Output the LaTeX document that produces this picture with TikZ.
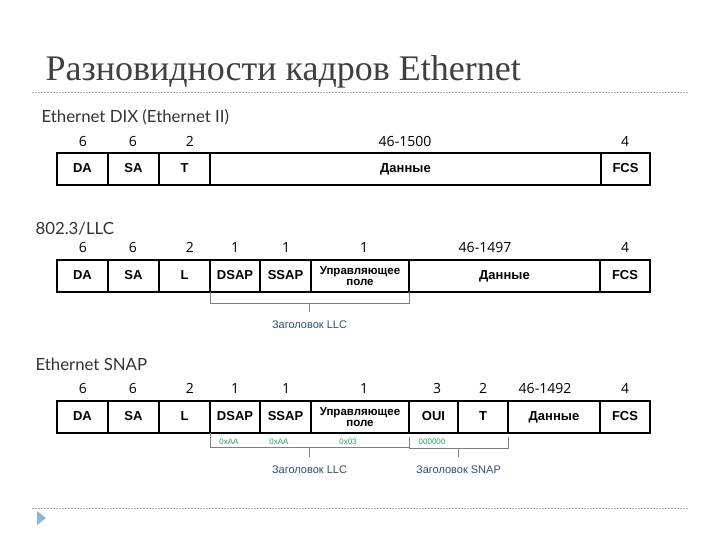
\documentclass[tikz,border=0pt]{standalone}
\usepackage{fontspec}
\setmainfont{Liberation Sans}
\newfontfamily\titlefont{Liberation Serif}
\newfontfamily\secfont{Lato}
\newfontfamily\numfont{Open Sans}
\usetikzlibrary{positioning,calc}
\definecolor{hdrblue}{HTML}{2F4F6F}
\definecolor{hexgreen}{HTML}{2E9E5B}
\definecolor{rulegray}{HTML}{A8A8A8}
\definecolor{bulletblue}{HTML}{8DB3DA}

\tikzset{
  box/.style={draw, line width=1.2pt, minimum height=32, inner sep=0pt, outer sep=0pt},
  field/.style={box, text height=9.5pt, text depth=2.5pt,
    font=\bfseries\fontsize{13}{14}\selectfont},
  ctlfield/.style={box, align=center, font=\bfseries\fontsize{11.5}{11.5}\selectfont},
  num/.style={font=\numfont\fontsize{14}{15}\selectfont, text height=10pt, text depth=0pt},
  sect/.style={anchor=west, font=\secfont\fontsize{16.8}{18}\selectfont, text=black!80},
  hex/.style={font=\fontsize{8}{9}\selectfont, text=hexgreen, inner sep=1pt},
  hdr/.style={font=\fontsize{11}{12}\selectfont, text=hdrblue, inner sep=1pt, outer sep=8pt},
  brk/.style={draw=gray, line width=0.5pt},
  rule/.style={draw=rulegray, line width=0.8pt, dash pattern=on 2pt off 1pt},
}

\begin{document}
\begin{tikzpicture}[x=1pt,y=-1pt]
  \useasboundingbox (0,0) rectangle (720,540);

  \node[anchor=base west, font=\titlefont\fontsize{36}{38}\selectfont, text=black!75] (title)
    at (42,81) {Разновидности кадров Ethernet};
  \draw[rule] (32,92) -- (688,92);
  \draw[rule] (32,508) -- (688,508);
  \fill[bulletblue] (37,511) -- (46,518) -- (37,525) -- cycle;

  % Ethernet DIX
  \node[sect] (dix) at (38,117) {Ethernet DIX (Ethernet II)};
  \node[field, minimum width=51] (da1) at (82.5,169) {DA};
  \node[field, minimum width=51, right=0pt of da1] (sa1) {SA};
  \node[field, minimum width=51, right=0pt of sa1] (t1) {T};
  \node[field, minimum width=391, right=0pt of t1] (data1) {Данные};
  \node[field, minimum width=49, right=0pt of data1] (fcs1) {FCS};
  \node[num] (n1da) at (83,142) {6};
  \node[num] (n1sa) at (133,142) {6};
  \node[num] (n1t) at (190,142) {2};
  \node[num] (n1data) at (405,142) {46-1500};
  \node[num] (n1fcs) at (625,142) {4};

  % 802.3/LLC
  \node[sect] (llc) at (32,229) {802.3/LLC};
  \node[field, minimum width=51] (da2) at (82.5,276) {DA};
  \node[field, minimum width=51, right=0pt of da2] (sa2) {SA};
  \node[field, minimum width=51, right=0pt of sa2] (l2) {L};
  \node[field, minimum width=50, right=0pt of l2] (dsap2) {DSAP};
  \node[field, minimum width=51, right=0pt of dsap2] (ssap2) {SSAP};
  \node[ctlfield, minimum width=98, right=0pt of ssap2] (ctl2) {Управляющее\\поле};
  \node[field, minimum width=191, right=0pt of ctl2] (data2) {Данные};
  \node[field, minimum width=50, right=0pt of data2] (fcs2) {FCS};
  \node[num] (n2da) at (83,247) {6};
  \node[num] (n2sa) at (133,247) {6};
  \node[num] (n2l) at (190,247) {2};
  \node[num] (n2dsap) at (235,247) {1};
  \node[num] (n2ssap) at (286,247) {1};
  \node[num] (n2ctl) at (364,247) {1};
  \node[num] (n2data) at (485,247) {46-1497};
  \node[num] (n2fcs) at (625,247) {4};
  \coordinate (llcL2) at ([yshift=-11pt]dsap2.south west);
  \coordinate (llcR2) at ([yshift=-11pt]ctl2.south east);
  \coordinate (llcM2) at ($(llcL2)!0.5!(llcR2)$);
  \draw[brk] (dsap2.south west) -- (llcL2) -- (llcR2) -- (ctl2.south east);
  \node[hdr, below=9pt of llcM2] (hllc2) {Заголовок LLC};
  \draw[brk] (llcM2) -- (hllc2);

  % Ethernet SNAP
  \node[sect] (snap) at (32,364) {Ethernet SNAP};
  \node[field, minimum width=51] (da3) at (82.5,417) {DA};
  \node[field, minimum width=51, right=0pt of da3] (sa3) {SA};
  \node[field, minimum width=51, right=0pt of sa3] (l3) {L};
  \node[field, minimum width=50, right=0pt of l3] (dsap3) {DSAP};
  \node[field, minimum width=51, right=0pt of dsap3] (ssap3) {SSAP};
  \node[ctlfield, minimum width=98, right=0pt of ssap3] (ctl3) {Управляющее\\поле};
  \node[field, minimum width=49, right=0pt of ctl3] (oui3) {OUI};
  \node[field, minimum width=50, right=0pt of oui3] (t3) {T};
  \node[field, minimum width=92, right=0pt of t3] (data3) {Данные};
  \node[field, minimum width=50, right=0pt of data3] (fcs3) {FCS};
  \node[num] (n3da) at (83,388) {6};
  \node[num] (n3sa) at (133,388) {6};
  \node[num] (n3l) at (190,388) {2};
  \node[num] (n3dsap) at (235,388) {1};
  \node[num] (n3ssap) at (286,388) {1};
  \node[num] (n3ctl) at (364,388) {1};
  \node[num] (n3oui) at (437,388) {3};
  \node[num] (n3t) at (483,388) {2};
  \node[num] (n3data) at (545,388) {46-1492};
  \node[num] (n3fcs) at (625,388) {4};
  \node[hex] (x3dsap) at (229,442) {0xAA};
  \node[hex] (x3ssap) at (279,442) {0xAA};
  \node[hex] (x3ctl) at (348,442) {0x03};
  \node[hex] (x3oui) at (432,442) {000000};
  \coordinate (llcL3) at ([yshift=-14pt]dsap3.south west);
  \coordinate (llcR3) at ([yshift=-14pt]ctl3.south east);
  \coordinate (llcM3) at ($(llcL3)!0.5!(llcR3)$);
  \draw[brk] (dsap3.south west) -- (llcL3) -- (llcR3);
  \node[hdr, below=10pt of llcM3] (hllc3) {Заголовок LLC};
  \draw[brk] (llcM3) -- (hllc3);
  \coordinate (snapL3) at ([yshift=-15pt]oui3.south west);
  \coordinate (snapR3) at ([yshift=-15pt]t3.south east);
  \coordinate (snapM3) at ($(snapL3)!0.5!(snapR3)$);
  \draw[brk] ([yshift=-4pt]oui3.south west) -- (snapL3) -- (snapR3) -- ([yshift=-4pt]t3.south east);
  \node[hdr, below=9pt of snapM3] (hsnap3) {Заголовок SNAP};
  \draw[brk] (snapM3) -- (hsnap3);
\end{tikzpicture}
\end{document}
